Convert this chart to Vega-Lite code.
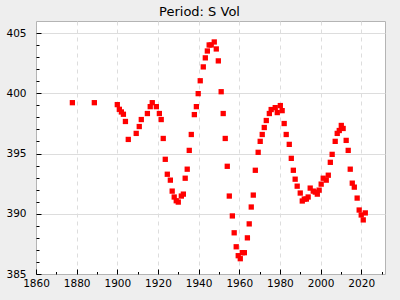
{
  "$schema": "https://vega.github.io/schema/vega-lite/v6.json",
  "width": 349,
  "height": 253,
  "autosize": "none",
  "padding": {"left": 36, "top": 21, "right": 15, "bottom": 26},
  "background": "#eeeeee",
  "title": {"text": "Period: S Vol", "fontSize": 13, "font": "DejaVu Sans", "fontWeight": "normal", "color": "#000000", "dx": -11, "offset": 2},
  "config": {"view": {"fill": "white", "stroke": "#b4b4b4", "strokeWidth": 1}},
  "data": {"values": [
    {"year": 1877.9, "value": 399.22},
    {"year": 1888.7, "value": 399.22},
    {"year": 1900.0, "value": 399.06},
    {"year": 1901.0, "value": 398.67},
    {"year": 1902.0, "value": 398.45},
    {"year": 1903.0, "value": 398.26},
    {"year": 1904.0, "value": 397.66},
    {"year": 1905.4, "value": 396.17},
    {"year": 1909.3, "value": 396.67},
    {"year": 1910.8, "value": 397.24},
    {"year": 1911.8, "value": 397.82},
    {"year": 1914.8, "value": 398.32},
    {"year": 1916.2, "value": 398.89},
    {"year": 1917.2, "value": 399.22},
    {"year": 1919.2, "value": 398.89},
    {"year": 1920.7, "value": 398.32},
    {"year": 1921.6, "value": 397.82},
    {"year": 1922.6, "value": 396.25},
    {"year": 1923.6, "value": 394.52},
    {"year": 1924.6, "value": 393.28},
    {"year": 1926.1, "value": 392.79},
    {"year": 1927.0, "value": 391.88},
    {"year": 1928.0, "value": 391.39},
    {"year": 1929.0, "value": 391.08},
    {"year": 1930.0, "value": 390.97},
    {"year": 1931.5, "value": 391.47},
    {"year": 1932.5, "value": 391.63},
    {"year": 1933.4, "value": 392.95},
    {"year": 1934.4, "value": 393.70},
    {"year": 1935.4, "value": 395.26},
    {"year": 1936.4, "value": 396.58},
    {"year": 1937.9, "value": 398.23},
    {"year": 1938.9, "value": 398.89},
    {"year": 1939.8, "value": 399.97},
    {"year": 1940.8, "value": 401.04},
    {"year": 1942.3, "value": 402.19},
    {"year": 1943.3, "value": 402.94},
    {"year": 1944.3, "value": 403.51},
    {"year": 1945.2, "value": 404.01},
    {"year": 1946.2, "value": 404.01},
    {"year": 1947.7, "value": 404.26},
    {"year": 1948.7, "value": 403.68},
    {"year": 1949.7, "value": 402.69},
    {"year": 1951.1, "value": 400.13},
    {"year": 1952.1, "value": 398.32},
    {"year": 1953.1, "value": 396.25},
    {"year": 1954.1, "value": 393.94},
    {"year": 1955.1, "value": 391.47},
    {"year": 1956.6, "value": 389.82},
    {"year": 1957.5, "value": 388.42},
    {"year": 1958.5, "value": 387.26},
    {"year": 1959.5, "value": 386.52},
    {"year": 1960.5, "value": 386.27},
    {"year": 1961.5, "value": 386.77},
    {"year": 1962.5, "value": 386.77},
    {"year": 1964.0, "value": 388.00},
    {"year": 1964.9, "value": 389.16},
    {"year": 1965.9, "value": 390.56},
    {"year": 1966.9, "value": 391.55},
    {"year": 1967.9, "value": 393.61},
    {"year": 1969.3, "value": 395.10},
    {"year": 1970.3, "value": 396.01},
    {"year": 1971.3, "value": 396.58},
    {"year": 1972.3, "value": 397.16},
    {"year": 1973.3, "value": 397.74},
    {"year": 1974.8, "value": 398.32},
    {"year": 1975.7, "value": 398.65},
    {"year": 1977.7, "value": 398.81},
    {"year": 1978.7, "value": 398.40},
    {"year": 1980.2, "value": 398.98},
    {"year": 1981.1, "value": 398.56},
    {"year": 1982.1, "value": 397.49},
    {"year": 1983.1, "value": 396.58},
    {"year": 1984.6, "value": 395.76},
    {"year": 1985.6, "value": 394.60},
    {"year": 1986.6, "value": 393.61},
    {"year": 1987.5, "value": 392.87},
    {"year": 1988.5, "value": 392.29},
    {"year": 1990.0, "value": 391.72},
    {"year": 1991.0, "value": 391.06},
    {"year": 1992.0, "value": 391.22},
    {"year": 1993.0, "value": 391.22},
    {"year": 1993.9, "value": 391.39},
    {"year": 1994.9, "value": 392.13},
    {"year": 1996.4, "value": 391.88},
    {"year": 1997.4, "value": 391.80},
    {"year": 1998.4, "value": 391.63},
    {"year": 1999.3, "value": 391.96},
    {"year": 2000.3, "value": 392.46},
    {"year": 2001.3, "value": 392.95},
    {"year": 2002.8, "value": 392.79},
    {"year": 2003.8, "value": 393.20},
    {"year": 2004.8, "value": 394.27},
    {"year": 2005.7, "value": 394.93},
    {"year": 2007.2, "value": 396.01},
    {"year": 2008.2, "value": 396.67},
    {"year": 2009.2, "value": 396.91},
    {"year": 2010.2, "value": 397.33},
    {"year": 2011.1, "value": 397.08},
    {"year": 2012.6, "value": 396.09},
    {"year": 2013.6, "value": 395.26},
    {"year": 2014.6, "value": 393.70},
    {"year": 2015.6, "value": 392.54},
    {"year": 2016.6, "value": 392.21},
    {"year": 2018.0, "value": 391.30},
    {"year": 2019.0, "value": 390.31},
    {"year": 2020.0, "value": 389.90},
    {"year": 2021.0, "value": 389.49},
    {"year": 2022.0, "value": 390.07}
  ]},
  "mark": {"type": "square", "color": "#ff0000", "size": 28, "opacity": 1},
  "encoding": {
    "x": {
      "field": "year", "type": "quantitative",
      "scale": {"domain": [1860, 2031.7], "nice": false, "zero": false},
      "axis": {
        "title": null, "domain": false, "format": "d",
        "values": [1860, 1870, 1880, 1890, 1900, 1910, 1920, 1930, 1940, 1950, 1960, 1970, 1980, 1990, 2000, 2010, 2020, 2030],
        "labelExpr": "datum.value % 20 == 0 ? datum.label : ''",
        "labelFont": "DejaVu Sans", "labelFontSize": 10.5, "labelColor": "#000000",
        "labelPadding": 9, "labelFlush": false, "labelOverlap": false,
        "tickColor": "#000000",
        "tickSize": {"condition": {"test": "datum.value % 20 == 0", "value": -5}, "value": -2.5},
        "grid": true, "gridColor": "#dddddd", "gridDash": [4, 4],
        "gridOpacity": {"condition": {"test": "datum.value % 20 == 0 && datum.value > 1860", "value": 1}, "value": 0}
      }
    },
    "y": {
      "field": "value", "type": "quantitative",
      "scale": {"domain": [385, 406], "nice": false, "zero": false},
      "axis": {
        "title": null, "domain": false,
        "values": [385, 386, 387, 388, 389, 390, 391, 392, 393, 394, 395, 396, 397, 398, 399, 400, 401, 402, 403, 404, 405],
        "labelExpr": "datum.value % 5 == 0 ? datum.label : ''",
        "labelFont": "DejaVu Sans", "labelFontSize": 10.5, "labelColor": "#000000",
        "labelPadding": 15, "labelFlush": false, "labelOverlap": false,
        "tickColor": "#000000",
        "tickSize": {"condition": {"test": "datum.value % 5 == 0", "value": -5}, "value": -3},
        "grid": true, "gridColor": "#dddddd",
        "gridOpacity": {"condition": {"test": "datum.value % 5 == 0 && datum.value > 385", "value": 1}, "value": 0}
      }
    }
  }
}
